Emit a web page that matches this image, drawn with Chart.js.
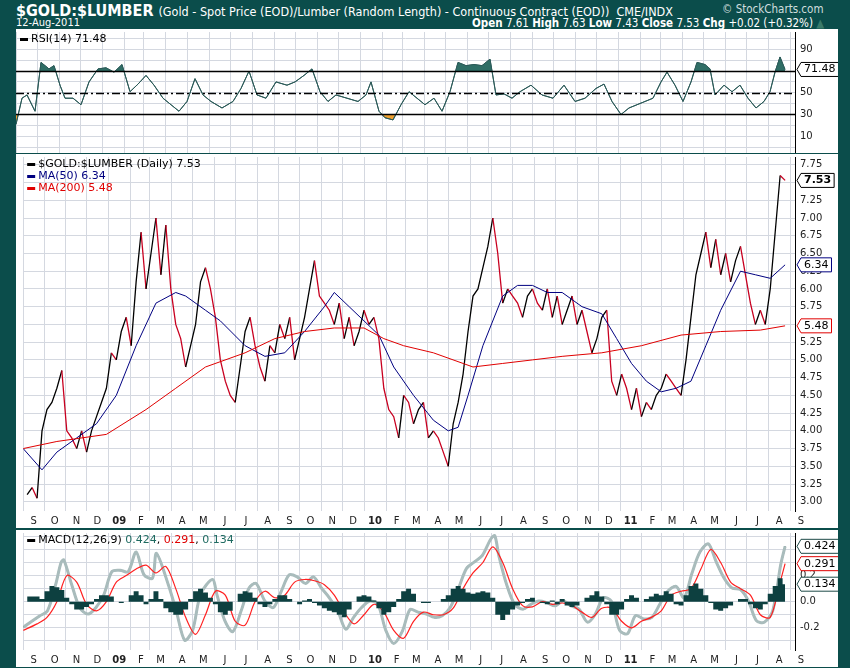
<!DOCTYPE html>
<html><head><meta charset="utf-8">
<script src="https://cdn.jsdelivr.net/npm/chart.js@4/dist/chart.umd.min.js"></script>
<style>
body{margin:0;background:#0b4d4b;width:850px;height:668px;overflow:hidden;position:relative;font-family:"Liberation Sans Narrow","DejaVu Sans Condensed",Arial,sans-serif;}
.t{position:absolute;color:#fff;white-space:nowrap}
.p{position:absolute;background:#fff;overflow:hidden}
canvas{position:absolute;left:0}
</style></head><body>
<div class="t" style="left:16px;top:1px;font-size:16px;font-weight:bold">$GOLD:$LUMBER <span style="font-weight:normal;font-size:12.5px">(Gold - Spot Price (EOD)/Lumber (Random Length) - Continuous Contract (EOD)) &nbsp;CME/INDX</span></div>
<div class="t" style="left:16px;top:16px;font-size:11px">12-Aug-2011</div>
<div class="t" style="left:722px;top:2px;font-size:11.5px;color:#cfdede">© StockCharts.com</div>
<div class="t" style="left:472px;top:16px;font-size:11.5px"><b>Open</b> 7.61 <b>High</b> 7.63 <b>Low</b> 7.43 <b>Close</b> 7.53 <b>Chg</b> +0.02 (+0.32%) <span style="color:#3a7a6a">▲</span></div>
<div class="p" style="left:16px;top:29px;width:822px;height:124px"><canvas id="c1" style="top:-8px"></canvas></div>
<div class="p" style="left:16px;top:154px;width:822px;height:374px"><canvas id="c2" style="top:-8px"></canvas></div>
<div class="p" style="left:16px;top:530px;width:822px;height:137px"><canvas id="c3" style="top:-8px"></canvas></div>
<script>
// ---- data (x = chart week index, ~1 per trading week from 1-Sep-2008) ----
const monthLabels=['S','O','N','D','09','F','M','A','M','J','J','A','S','O','N','D','10','F','M','A','M','J','J','A','S','O','N','D','11','F','M','A','M','J','J','A','S'];
const price=[3.1,3.2,3.05,4.0,4.3,4.4,4.6,4.85,4.0,3.9,
3.75,4.0,3.7,4.0,4.2,4.4,4.6,5.1,5.0,5.4,
5.6,5.2,6.1,6.8,6.0,6.5,7.0,6.2,6.9,6.0,
5.5,5.3,4.9,5.2,5.5,6.1,6.3,6.0,5.6,5.0,
4.7,4.5,4.4,4.9,5.4,5.6,5.2,4.9,4.7,5.2,
5.1,5.5,5.3,5.6,5.0,5.3,5.6,6.0,6.4,5.9,
5.8,5.7,5.5,5.8,5.3,5.6,5.2,5.4,5.7,5.5,
5.6,5.3,4.6,4.3,4.2,3.9,4.5,4.4,4.1,4.3,
4.4,3.9,4.0,3.9,3.7,3.5,4.1,4.4,4.8,5.4,
5.9,6.0,6.3,6.6,7.0,6.5,5.8,6.0,5.9,5.8,
5.6,5.9,6.0,5.8,5.7,6.0,5.6,5.9,5.5,5.7,
5.9,5.5,5.7,5.4,5.1,5.3,5.6,5.7,4.7,4.5,
4.8,4.6,4.3,4.6,4.2,4.4,4.3,4.5,4.6,4.8,
4.7,4.6,4.5,5.0,5.6,6.2,6.5,6.8,6.3,6.7,
6.2,6.5,6.1,6.4,6.6,6.2,5.8,5.5,5.7,5.5,
6.0,6.8,7.6,7.53];
const ma50=[[-0.8,3.75],[3,3.45],[6,3.7],[10,3.9],[14,4.1],[18,4.5],[22,5.2],[26,5.8],[30,5.95],[32,5.9],[36,5.7],[39,5.55],[44,5.2],[48,5.05],[52,5.1],[56,5.4],[60,5.75],[62,5.95],[65,5.75],[68,5.55],[71,5.35],[74,4.9],[78,4.5],[82,4.15],[85,4.0],[87,4.05],[89,4.5],[92,5.2],[96,5.9],[99,6.05],[102,6.05],[105,5.95],[108,5.95],[112,5.75],[116,5.65],[119,5.3],[122,4.95],[125,4.7],[128,4.55],[131,4.6],[134,4.7],[137,5.2],[140,5.7],[144,6.25],[147,6.2],[150,6.15],[153,6.34]];
const ma200=[[-0.8,3.75],[6,3.85],[16,3.95],[24,4.3],[30,4.6],[36,4.9],[44,5.1],[50,5.3],[56,5.4],[62,5.45],[68,5.45],[72,5.3],[76,5.2],[82,5.1],[88,4.95],[90,4.9],[96,4.95],[102,5.0],[108,5.05],[116,5.1],[124,5.2],[132,5.35],[140,5.4],[148,5.42],[153,5.48]];
const rsi=[[-0.8,21],[0.4,45],[1.4,48],[3,33],[4.2,78],[5.8,72],[6.8,75],[8,57],[9,45],[10.6,45],[12.2,39],[13.8,60],[15.6,72],[17.2,73],[18.8,69],[20.4,76],[22,51],[23.6,58],[25.2,66],[26.8,57],[28.6,45],[30.2,39],[31.8,33],[33.4,42],[35,63],[36.6,48],[38.2,42],[40.4,36],[42.6,42],[44.2,54],[45.8,70],[47.4,48],[49.2,45],[51.2,60],[53.4,57],[55,60],[56.8,66],[58.4,72],[60,51],[61.6,42],[63.2,48],[65.4,45],[67.6,42],[69.2,48],[70.2,60],[71.8,33],[73,27],[74.6,25],[76.2,39],[77.8,51],[79.4,45],[81,39],[82.8,45],[84.4,33],[86,51],[87.6,78],[89.2,75],[90.8,76],[92.4,75],[94,81],[95.2,48],[96.8,49],[98.4,45],[100,51],[102.2,57],[104.4,48],[106.6,45],[108.8,57],[111,42],[113,45],[115.2,54],[116.8,58],[118.4,42],[120.2,30],[121.8,36],[123.4,39],[125,42],[126.6,45],[128.2,60],[129.4,69],[131,57],[132.6,42],[134.2,60],[135.4,78],[137,76],[138,72],[139,48],[140.8,57],[142.4,51],[144,57],[145.6,45],[147.2,36],[148.8,42],[150,51],[151,69],[152,83],[153,71.48]];
const macd=[[-0.75,-0.195],[2.5,-0.11],[4.1,-0.07],[5.75,0.13],[6.85,0.30],[7.4,0.32],[9,0.13],[10.6,-0.045],[12.3,-0.095],[13.9,-0.045],[15.5,0.055],[17.1,0.23],[18.8,0.24],[20.4,0.23],[22,0.38],[23.6,0.205],[25.3,0.18],[26.1,0.37],[28.5,0.13],[30.1,-0.07],[31.8,-0.295],[33.4,-0.22],[35,0.055],[37.4,0.17],[38.3,0.055],[39.9,-0.145],[41.5,-0.23],[43.2,-0.07],[44.8,0.105],[46.2,0.14],[48,0.005],[49.7,-0.045],[51.3,0.08],[52.9,0.205],[54.5,0.19],[56.2,0.14],[57.8,0.19],[59.4,0.105],[61,0.03],[62.7,-0.07],[64.3,-0.21],[65.9,-0.12],[67.5,-0.045],[69.2,0.005],[70.8,-0.02],[72.4,-0.22],[74,-0.32],[75.7,-0.23],[77.3,-0.06],[78.9,-0.08],[80.6,-0.095],[82.2,-0.12],[83.8,-0.107],[85.4,-0.045],[87.1,0.105],[88.7,0.255],[90.3,0.305],[91.9,0.355],[93.6,0.48],[94.4,0.505],[95.2,0.355],[96.8,0.13],[98.4,-0.02],[100.1,-0.057],[101.7,-0.02],[103.3,0.005],[104.9,-0.007],[106.6,-0.032],[108.2,0.005],[109.8,-0.032],[111.4,-0.057],[113.1,-0.157],[114.7,-0.095],[116.3,0.03],[117.9,0.005],[119.6,-0.22],[121.2,-0.245],[122.8,-0.107],[124.5,-0.132],[126.1,-0.12],[127.7,-0.02],[129.3,0.08],[131,0.118],[132.6,0.03],[134.2,0.218],[135.8,0.38],[137.5,0.443],[139.1,0.305],[140.7,0.18],[142.3,0.105],[144,0.093],[145.6,0.005],[147.2,-0.145],[148.8,-0.157],[150.5,-0.07],[152.1,0.28],[153,0.424]];
const signal=[[-0.8,-0.22],[2,-0.17],[4,-0.12],[6,0.0],[8,0.2],[10,0.15],[12,-0.02],[14,-0.07],[16,0.0],[18,0.15],[20,0.2],[22,0.25],[24,0.28],[26,0.22],[28,0.27],[30,0.1],[32,-0.12],[34,-0.25],[36,-0.1],[38,0.08],[40,0.05],[42,-0.15],[44,-0.18],[46,0.0],[48,0.08],[50,0.03],[52,0.05],[54,0.15],[56,0.17],[58,0.16],[60,0.13],[62,0.05],[64,-0.08],[66,-0.17],[68,-0.1],[70,-0.02],[72,-0.08],[74,-0.22],[76,-0.28],[78,-0.15],[80,-0.08],[82,-0.1],[84,-0.1],[86,-0.05],[88,0.1],[90,0.22],[92,0.3],[94,0.42],[96,0.3],[98,0.1],[100,-0.03],[102,-0.04],[104,0.0],[106,-0.02],[108,-0.01],[110,-0.03],[112,-0.08],[114,-0.12],[116,-0.05],[118,-0.05],[120,-0.15],[122,-0.2],[124,-0.15],[126,-0.12],[128,-0.07],[130,0.05],[132,0.08],[134,0.1],[136,0.25],[138,0.4],[140,0.3],[142,0.15],[144,0.1],[146,0.05],[148,-0.1],[150,-0.12],[152,0.15],[153,0.291]];
const hist=[0.04,0.04,0.04,0.02,0.08,0.12,0.11,0.09,0.03,-0.02,-0.06,-0.06,-0.04,-0.02,0.02,0.05,0.05,0.04,0.0,-0.01,0.0,0.05,0.08,0.05,-0.02,0.02,0.08,0.02,-0.05,-0.08,-0.1,-0.1,-0.06,0.02,0.08,0.1,0.07,0.03,-0.02,-0.08,-0.1,-0.07,0.0,0.06,0.08,0.07,0.03,-0.02,-0.04,-0.02,0.02,0.05,0.05,0.02,0.0,-0.02,0.01,0.02,-0.01,-0.03,-0.05,-0.07,-0.08,-0.1,-0.12,-0.06,0.0,0.04,0.05,0.04,0.01,-0.05,-0.1,-0.08,-0.04,0.02,0.08,0.1,0.06,0.0,-0.01,-0.01,0.0,0.0,0.02,0.05,0.1,0.12,0.1,0.07,0.06,0.07,0.08,0.07,0.03,-0.1,-0.14,-0.1,-0.06,-0.03,-0.01,0.02,0.03,0.0,-0.01,-0.02,0.01,-0.02,0.02,-0.03,-0.04,-0.03,0.0,0.03,0.05,0.08,0.04,-0.02,-0.1,-0.1,-0.06,0.02,0.05,0.03,0.0,0.02,0.04,0.06,0.05,0.08,0.06,-0.02,-0.03,0.05,0.12,0.14,0.1,0.05,-0.01,-0.06,-0.07,-0.05,-0.03,0.0,0.02,0.02,-0.02,-0.05,-0.06,-0.02,0.06,0.12,0.18,0.134];
const priceTicks=[3.00,3.25,3.50,3.75,4.00,4.25,4.50,4.75,5.00,5.25,5.50,5.75,6.00,6.25,6.50,6.75,7.00,7.25,7.50,7.75];

// ---- helpers ----
const start=new Date(2008,8,1);
const monthPos=monthLabels.map((l,i)=>0.99*((new Date(2008,8+i,1)-start)/864e5/7)-0.8);
const XMIN=-0.8, XMAX=155;
const pts=a=>a.map(p=>({x:p[0],y:p[1]}));
const FONT='"DejaVu Sans", sans-serif';
function xAxis(showLabels){return{type:'linear',min:XMIN,max:XMAX,
  afterBuildTicks:s=>{s.ticks=monthPos.map(v=>({value:v}));},
  grid:{color:'#d4d8e0',drawTicks:false},border:{display:false},
  ticks:{display:showLabels,autoSkip:false,maxRotation:0,labelOffset:10.5,padding:4,color:'#222',
    font:c=>({family:FONT,size:10,weight:/\d/.test(monthLabels[c.index]||'')?'bold':'normal'}),
    callback:(v,i)=>monthLabels[i]},
  afterFit:s=>{s.height=showLabels?17:0;}};}
function yAxis(min,max,tickVals,gridStep,fmt){return{position:'right',min,max,
  afterBuildTicks:s=>{const t=[];for(let v=Math.ceil(min/gridStep)*gridStep;v<=max+1e-9;v+=gridStep)t.push({value:+v.toFixed(4)});s.ticks=t;},
  grid:{color:'#d4d8e0',drawTicks:false},border:{display:true,color:'#000'},
  ticks:{padding:5,color:'#222',font:{family:FONT,size:10},autoSkip:false,
    callback:v=>tickVals.some(t=>Math.abs(t-v)<1e-6)?fmt(v):''},
  afterFit:s=>{s.width=43;}};}
const overlay={id:'overlay',afterDatasetsDraw(ch,a,o){
  const c=ch.ctx,ca=ch.chartArea,y=ch.scales.y;c.save();
  (o.lines||[]).forEach(l=>{c.beginPath();c.strokeStyle='#000';c.lineWidth=1.3;c.setLineDash(l.dash||[]);const py=Math.round(y.getPixelForValue(l.v))+0.5;c.moveTo(ca.left,py);c.lineTo(ca.right,py);c.stroke();});
  c.setLineDash([]);
  c.font='11px '+FONT;c.textBaseline='middle';
  (o.legend||[]).forEach((l,i)=>{let x=ca.left+4,yy=ca.top+7+i*12;c.fillStyle=l[0][1];c.fillRect(x,yy-1,8,3);x+=11;
    l.forEach(p=>{c.fillStyle=p[1];c.fillText(p[0],x,yy);x+=c.measureText(p[0]).width;});});
  (o.tags||[]).forEach(t=>{const py=y.getPixelForValue(t.v),x=ca.right+2;c.font=(t.b?'bold ':'')+'11px '+FONT;const w=c.measureText(t.t).width+6;
    c.fillStyle='#fff';c.strokeStyle=t.c;c.lineWidth=1;
    c.beginPath();c.moveTo(x,py);c.lineTo(x+4,py-7);c.lineTo(x+4+w,py-7);c.lineTo(x+4+w,py+7);c.lineTo(x+4,py+7);c.closePath();c.fill();c.stroke();
    c.fillStyle='#000';c.fillText(t.t,x+7,py);});
  c.restore();}};
Chart.register(overlay);
function mk(id,h,cfg){const el=document.getElementById(id);el.width=822;el.height=h;
  cfg.options=Object.assign({responsive:false,animation:false,devicePixelRatio:1,layout:{padding:0,autoPadding:false},
    elements:{point:{radius:0}},plugins:Object.assign({legend:{display:false},tooltip:{enabled:false}},cfg.plugins)},cfg.options);
  return new Chart(el,cfg);}

// RSI
mk('c1',144,{type:'line',data:{datasets:[
  {data:pts(rsi),borderColor:'#2b5a58',borderWidth:1,fill:{target:{value:70},above:'#2f6e66',below:'rgba(0,0,0,0)'}},
  {data:pts(rsi),borderColor:'#2b5a58',borderWidth:1,fill:{target:{value:30},above:'rgba(0,0,0,0)',below:'#f0a030'}}]},
  plugins:{overlay:{lines:[{v:70},{v:30},{v:50,dash:[8,3,2,3]}],legend:[[['RSI(14) 71.48','#000']]],tags:[{v:71.48,t:'71.48',c:'#000'}]}},
  options:{scales:{x:xAxis(false),y:yAxis(-6.4,106,[10,30,50,70,90],10,v=>v)}}});
// Price
mk('c2',382,{type:'line',data:{datasets:[
  {data:pts(ma200),borderColor:'#e00000',borderWidth:1},
  {data:pts(ma50),borderColor:'#000080',borderWidth:1},
  {data:price.map((v,i)=>({x:i,y:v})),borderWidth:1.3,borderColor:'#000',
   segment:{borderColor:c=>c.p1.parsed.y>=c.p0.parsed.y?'#000':'#c80020'}}]},
  plugins:{overlay:{legend:[[['$GOLD:$LUMBER (Daily) 7.53','#000']],[['MA(50) 6.34','#000080']],[['MA(200) 5.48','#e00000']]],
    tags:[{v:7.53,t:'7.53',c:'#000',b:true},{v:6.34,t:'6.34',c:'#000080'},{v:5.48,t:'5.48',c:'#e00000'}]}},
  options:{scales:{x:xAxis(true),y:yAxis(2.87,7.86,priceTicks,0.25,v=>v.toFixed(2))}}});
// MACD
mk('c3',145,{type:'line',data:{datasets:[
  {data:hist.map((v,i)=>({x:i,y:v})),stepped:'middle',borderWidth:0,borderColor:'rgba(0,0,0,0)',backgroundColor:'#0d4040',fill:'origin'},
  {data:pts(signal),borderColor:'#ff2020',borderWidth:1.2,tension:0.3},
  {data:pts(macd),borderColor:'#a9bcbc',borderWidth:3,tension:0.3},
  {data:pts(macd),borderColor:'#1e4a48',borderWidth:1.6,tension:0.3}]},
  plugins:{overlay:{legend:[[['MACD(12,26,9) ','#000'],['0.424','#1e6a60'],[', ','#000'],['0.291','#e00000'],[', ','#000'],['0.134','#1e6a60']]],
    tags:[{v:0.424,t:'0.424',c:'#1e4a48'},{v:0.291,t:'0.291',c:'#e00000'},{v:0.134,t:'0.134',c:'#1e4a48'}]}},
  options:{scales:{x:xAxis(true),y:yAxis(-0.37,0.526,[-0.2,0,0.2],0.1,v=>v.toFixed(1))}}});
</script></body></html>
